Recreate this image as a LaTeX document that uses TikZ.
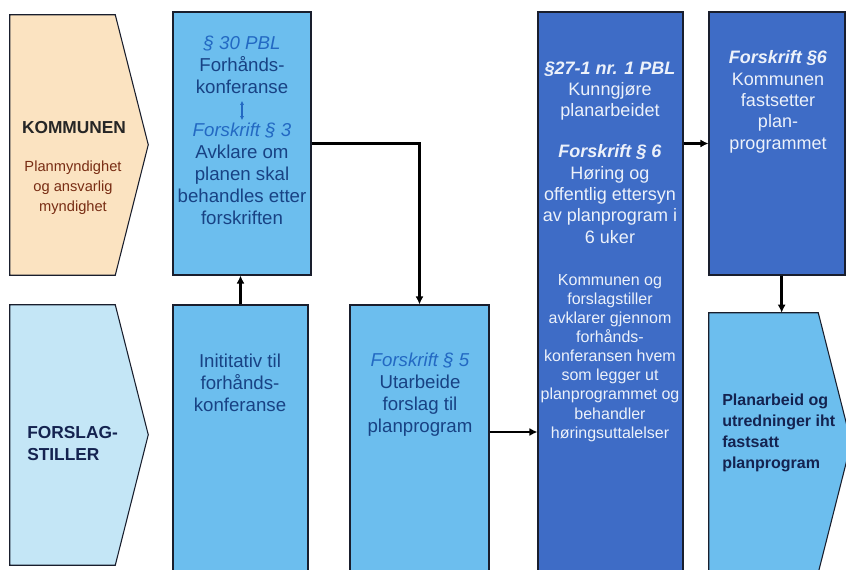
\documentclass[tikz,border=0pt]{standalone}
\usepackage{fontspec}
\setmainfont{Liberation Sans}
\usetikzlibrary{fit,arrows.meta}

\definecolor{peach}{RGB}{251,227,193}
\definecolor{paleblue}{RGB}{196,230,246}
\definecolor{midblue}{RGB}{108,190,238}
\definecolor{deepblue}{RGB}{62,108,198}
\definecolor{edge}{RGB}{25,30,45}
\definecolor{inkblue}{RGB}{24,66,132}
\definecolor{lawblue}{RGB}{35,105,195}
\definecolor{paper}{RGB}{236,241,250}
\definecolor{rust}{RGB}{120,45,20}
\definecolor{navy}{RGB}{20,35,80}

\newcommand{\tipw}{33}  % width of the arrow point
\newcommand{\tiph}{130} % half height of the arrow point

\begin{document}
\begin{tikzpicture}[x=0.75pt,y=-0.75pt,
    box/.style={draw=edge, line width=0.8pt, inner sep=0pt},
    pent/.style={draw=edge, line width=0.8pt},
    bigtxt/.style={inner sep=0pt, align=center, text=inkblue, font=\fontsize{14}{16.5}\selectfont},
    darktxt/.style={inner sep=0pt, align=center, text=paper, font=\fontsize{13.5}{16}\selectfont},
    smalltxt/.style={inner sep=0pt, align=center, text=paper, font=\fontsize{12}{14.3}\selectfont},
    conn/.style={draw=black, line width=2pt, -{Latex[length=6pt,width=6pt]}},
  ]
        \useasboundingbox (0,0) rectangle (846,570);
        \clip (0,0) rectangle (846,570);

        % Actors on the left
        \node[fit={(10,15) (115,275)}, inner sep=0pt] (komm) {};
        \draw[pent, fill=peach] (komm.north west) -- (komm.north east) -- ++(\tipw,\tiph)
            -- (komm.south east) -- (komm.south west) -- cycle;
        \node[font=\fontsize{13}{15}\selectfont\bfseries, text=black!85] at (74,128) {KOMMUNEN};
        \node[inner sep=0pt, align=center, text=rust, font=\fontsize{11}{15}\selectfont] at (73,188)
            {Planmyndighet\\og ansvarlig\\myndighet};

        \node[fit={(10,305) (115,565)}, inner sep=0pt] (forsl) {};
        \draw[pent, fill=paleblue] (forsl.north west) -- (forsl.north east) -- ++(\tipw,\tiph)
            -- (forsl.south east) -- (forsl.south west) -- cycle;
        \node[anchor=west, inner sep=0pt, align=left, text=navy, font=\fontsize{13}{16.5}\selectfont\bfseries]
            at (27,444) {FORSLAG-\\STILLER};

        % Steps
        \node[box, fill=midblue, fit={(173,12) (311,275)}] (box1) {};
        \node[box, fill=midblue, fit={(173,305) (308,580)}] (box2) {};
        \node[box, fill=midblue, fit={(350,305) (489,580)}] (box3) {};
        \node[box, fill=deepblue, fit={(538,12) (683,580)}] (box4) {};
        \node[box, fill=deepblue, fit={(709,12) (845,275)}] (box5) {};
        \node[fit={(709,313) (818,580)}, inner sep=0pt] (box6) {};
        \draw[pent, fill=midblue] (box6.north west) -- (box6.north east) -- ++(\tipw,\tiph)
            -- ++(-\tipw,\tiph) -- (box6.south west) -- cycle;

        % Texts in the steps
        \node[bigtxt] (pbl) at (242,65) {\textit{\color{lawblue}§ 30 PBL}\\Forhånds-\\konferanse};
        \node[bigtxt] (forskr3) at (242,174)
            {\textit{\color{lawblue}Forskrift § 3}\\Avklare om\\planen skal\\behandles etter\\forskriften};
        \draw[lawblue, line width=0.8pt, {Latex[length=3pt,width=3pt]}-{Latex[length=3pt,width=3pt]},
            shorten <=5pt, shorten >=2pt] (pbl.south) -- (forskr3.north);

        \node[bigtxt] (initiativ) at (240,383) {Inititativ til\\forhånds-\\konferanse};
        \node[bigtxt] (utarbeide) at (420,395)
            {\textit{\color{lawblue}Forskrift § 5}\\Utarbeide\\forslag til\\planprogram};

        \node[darktxt] (kunngj) at (610,91) {\textbf{\textit{§27-1 nr. 1 PBL}}\\Kunngjøre\\planarbeidet};
        \node[darktxt] (horing) at (610,194)
            {\textbf{\textit{Forskrift § 6}}\\Høring og\\offentlig ettersyn\\av planprogram i\\6 uker};
        \node[smalltxt] (avklar) at (610,358)
            {Kommunen og\\forslagstiller\\avklarer gjennom\\forhånds-\\konferansen hvem\\som legger ut\\planprogrammet og\\behandler\\høringsuttalelser};

        \node[darktxt] (fastsett) at (778,102)
            {\textbf{\textit{Forskrift §6}}\\Kommunen\\fastsetter\\plan-\\programmet};

        \node[anchor=west, inner sep=0pt, align=left, text=navy, font=\fontsize{12}{15.75}\selectfont\bfseries]
            (planarb) at (722,433) {Planarbeid og\\utredninger iht\\fastsatt\\planprogram};

        % Connectors
        \coordinate (lowlink) at (0,432);
        \draw[conn] (box2.north) -- (box2.north |- box1.south);
        \draw[conn] (box1.east) -| (box3.north);
        \draw[conn] (box3.east |- lowlink) -- (box4.west |- lowlink);
        \draw[conn] (box4.east |- box5.west) -- (box5.west);
        \draw[conn] ([xshift=3.5pt]box5.south) -- ([xshift=3.5pt]box5.south |- box6.north);
\end{tikzpicture}
\end{document}
